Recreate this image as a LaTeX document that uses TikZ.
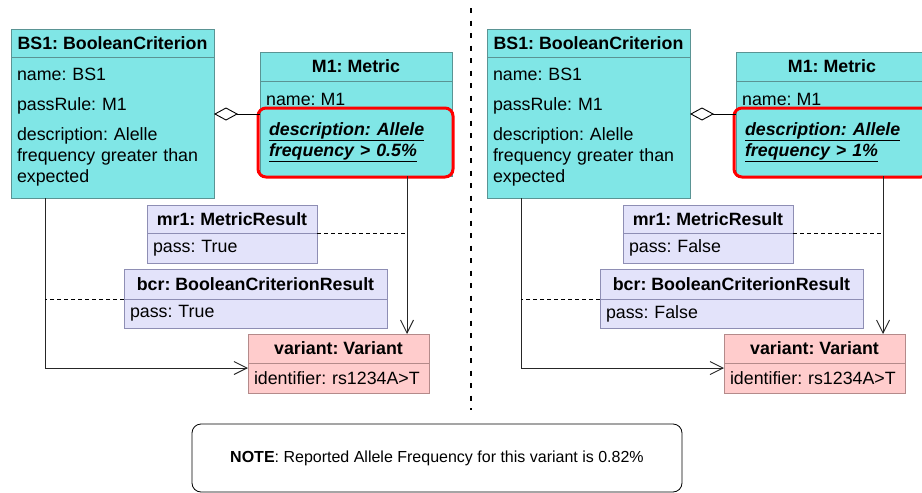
\documentclass[tikz,border=0pt]{standalone}
\usepackage{fontspec}
\setmainfont{Liberation Sans}
\usetikzlibrary{positioning,arrows.meta,calc}
\frenchspacing

\definecolor{critfill}{HTML}{80E6E6}
\definecolor{critline}{HTML}{5A9494}
\definecolor{resfill}{HTML}{E3E3FA}
\definecolor{resline}{HTML}{8E8EB4}
\definecolor{varfill}{HTML}{FFCCCC}
\definecolor{varline}{HTML}{B48A8A}

\tikzset{
  box/.style={draw, line width=0.8pt, outer sep=0pt, inner sep=0pt},
  hdr/.style={box, font=\fontsize{17.8}{21}\bfseries},
  body/.style={box, inner xsep=6pt, align=left},
  crit/.style={fill=critfill, draw=critline},
  res/.style={fill=resfill, draw=resline},
  var/.style={fill=varfill, draw=varline},
  hilite/.style={draw=red, line width=3pt, rounded corners=8pt, inner xsep=11pt, inner ysep=0pt, align=left, outer sep=0pt},
  assoc/.style={draw=black!85, line width=0.9pt, -{Straight Barb[length=13pt, width=13pt]}},
  agg/.style={draw=black, line width=0.9pt, -{Diamond[open, length=24pt, width=13pt]}},
  dep/.style={draw=black, line width=0.9pt, dash pattern=on 4pt off 3pt},
  divider/.style={draw=black, line width=2pt, dash pattern=on 5pt off 7.5pt},
  note/.style={draw=black, line width=0.8pt, rounded corners=9pt, minimum width=490pt, minimum height=68pt, font=\fontsize{16}{19}\selectfont}
}

\begin{document}
\begin{tikzpicture}[x=1pt, y=-1pt, font=\fontsize{17.8}{21}\selectfont]
\useasboundingbox (0,0) rectangle (922,493);

\foreach \p/\dx/\pct/\res in {l/0/0.5/True, r/476/1/False}{
\begin{scope}[xshift=\dx pt]
  % criterion and metric
  \node[hdr, crit, minimum width=203pt, minimum height=28pt] (\p-bs1h) at (112.5,43) {BS1: BooleanCriterion};
  \node[body, crit, text width=191pt, minimum height=141pt, below=0pt of \p-bs1h] (\p-bs1b) {name: BS1\\[9pt]passRule: M1\\[9pt]description: Alelle\\frequency greater than\\expected};
  \node[hdr, crit, minimum width=192pt, minimum height=29pt] (\p-m1h) at (356,66.5) {M1: Metric};
  \node[body, crit, text width=180pt, minimum height=95pt, below=0pt of \p-m1h] (\p-m1b) {};
  \node[anchor=west, inner sep=0pt] (\p-m1name) at ($(\p-m1b.north west)+(6,18)$) {name: M1};
  \node[hilite, text width=173pt, minimum height=69pt, anchor=north west] (\p-desc) at ($(\p-m1b.north west)+(-2,27)$)
    {\underline{\textbf{\textit{description: Allele}}}\\\underline{\textbf{\textit{frequency > \pct\%}}}};

  % results
  \node[hdr, res, minimum width=170pt, minimum height=28pt] (\p-mr1h) at (232,219) {mr1: MetricResult};
  \node[body, res, text width=158pt, minimum height=30pt, below=0pt of \p-mr1h] (\p-mr1b) {pass: \res};
  \node[hdr, res, minimum width=263pt, minimum height=30pt] (\p-bcrh) at (255.5,284) {bcr: BooleanCriterionResult};
  \node[body, res, text width=251pt, minimum height=29pt, below=0pt of \p-bcrh] (\p-bcrb) {pass: \res};

  % variant
  \node[hdr, var, minimum width=181pt, minimum height=29pt] (\p-varh) at (338.5,348.5) {variant: Variant};
  \node[body, var, text width=169pt, minimum height=30pt, below=0pt of \p-varh] (\p-varb) {identifier: rs1234A>T};

  % connectors
  \coordinate (\p-m1foot) at ($(\p-m1b.south west)+(147,0)$);
  \coordinate (\p-bs1foot) at ($(\p-bs1b.south west)+(34,0)$);
  \draw[agg] (\p-m1b.north west) ++(0,33) coordinate (\p-aggend) -- (\p-bs1b.east |- \p-aggend);
  \draw[assoc] (\p-m1foot) -- (\p-m1foot |- \p-varh.north);
  \draw[assoc] (\p-bs1foot) |- ($(\p-varb.north west)+(0,5)$);
  \draw[dep] (\p-mr1h.south east) -- (\p-mr1h.south east -| \p-m1foot);
  \draw[dep] (\p-bcrh.south west) -- (\p-bcrh.south west -| \p-bs1foot);
\end{scope}
}

\draw[divider] (471,8) -- (471,410);
\node[note] (note) at (437,458) {\textbf{NOTE}: Reported Allele Frequency for this variant is 0.82\%};
\end{tikzpicture}
\end{document}
